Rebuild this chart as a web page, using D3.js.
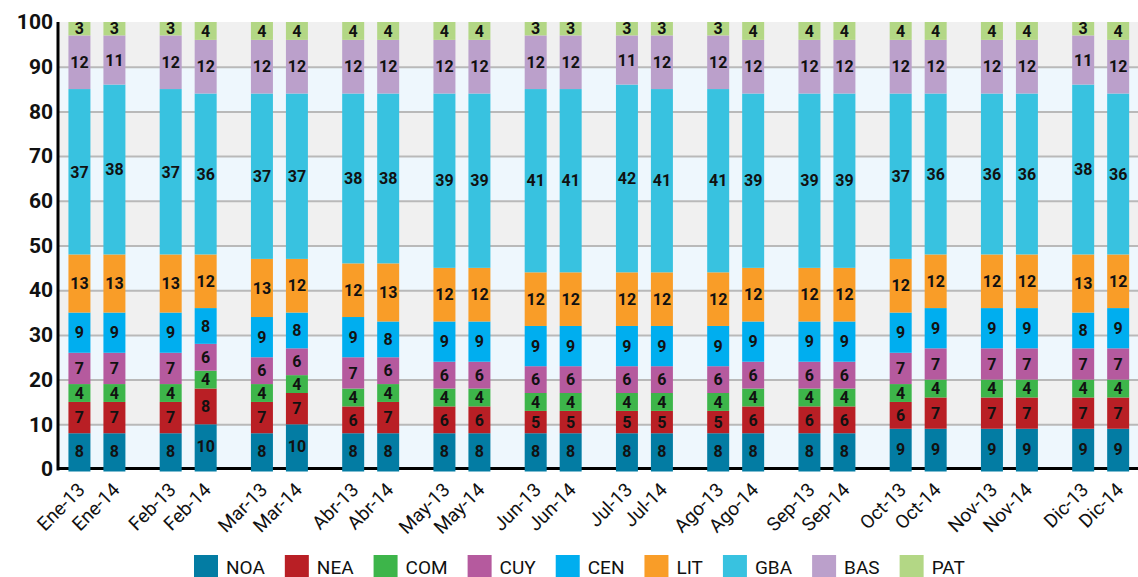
<!DOCTYPE html>
<html>
<head>
<meta charset="utf-8">
<script src="https://cdn.jsdelivr.net/npm/d3@7"></script>
<style>
  html, body { margin: 0; padding: 0; background: #fff; }
  svg { display: block; font-family: Roboto, "Noto Sans", sans-serif; }
</style>
</head>
<body>
<svg id="chart" width="1138" height="577"></svg>
<script>
// ---------------- DATA ----------------
const months = ["Ene","Feb","Mar","Abr","May","Jun","Jul","Ago","Sep","Oct","Nov","Dic"];
const years = ["13","14"];
const categories = [
  "Ene-13","Ene-14","Feb-13","Feb-14","Mar-13","Mar-14","Abr-13","Abr-14",
  "May-13","May-14","Jun-13","Jun-14","Jul-13","Jul-14","Ago-13","Ago-14",
  "Sep-13","Sep-14","Oct-13","Oct-14","Nov-13","Nov-14","Dic-13","Dic-14"
];
const seriesNames = ["NOA","NEA","COM","CUY","CEN","LIT","GBA","BAS","PAT"];
const NOA = [8,8, 8,10, 8,10, 8,8, 8,8, 8,8, 8,8, 8,8, 8,8, 9,9, 9,9, 9,9];
const NEA = [7,7, 7,8, 7,7, 6,7, 6,6, 5,5, 5,5, 5,6, 6,6, 6,7, 7,7, 7,7];
const COM = [4,4, 4,4, 4,4, 4,4, 4,4, 4,4, 4,4, 4,4, 4,4, 4,4, 4,4, 4,4];
const CUY = [7,7, 7,6, 6,6, 7,6, 6,6, 6,6, 6,6, 6,6, 6,6, 7,7, 7,7, 7,7];
const CEN = [9,9, 9,8, 9,8, 9,8, 9,9, 9,9, 9,9, 9,9, 9,9, 9,9, 9,9, 8,9];
const LIT = [13,13, 13,12, 13,12, 12,13, 12,12, 12,12, 12,12, 12,12, 12,12, 12,12, 12,12, 13,12];
const GBA = [37,38, 37,36, 37,37, 38,38, 39,39, 41,41, 42,41, 41,39, 39,39, 37,36, 36,36, 38,36];
const BAS = [12,11, 12,12, 12,12, 12,12, 12,12, 12,12, 11,12, 12,12, 12,12, 12,12, 12,12, 11,12];
const PAT = [3,3, 3,4, 4,4, 4,4, 4,4, 3,3, 3,3, 3,4, 4,4, 4,4, 4,4, 3,4];
const yTicks = [0,10,20,30,40,50,60,70,80,90,100];

// ---------------- STYLE ----------------
const colors = {
  NOA: "#037ca3", NEA: "#b91f25", COM: "#3db54a", CUY: "#b55a9e", CEN: "#00aeef",
  LIT: "#f99d28", GBA: "#38c2e0", BAS: "#bba0cb", PAT: "#b3d785"
};
const bandColors = ["#eef7fd", "#f0f0f0"];

// ---------------- BUILD TABLE ----------------
const seriesData = {NOA, NEA, COM, CUY, CEN, LIT, GBA, BAS, PAT};
const table = categories.map((c, i) => {
  const row = {cat: c, month: c.split("-")[0], year: c.split("-")[1]};
  seriesNames.forEach(s => row[s] = seriesData[s][i]);
  return row;
});

const W = 1138, H = 577;
const plot = {left: 58, right: 1138, top: 22, bottom: 469};
const svg = d3.select("#chart");

const y = d3.scaleLinear().domain([0, 100]).range([plot.bottom, plot.top]);

const xGroup = d3.scaleBand().domain(months).range([51.3, 1146.3]).paddingInner(0).paddingOuter(0);
const xInner = d3.scaleBand().domain(years).range([0, xGroup.bandwidth()])
  .paddingInner(13 / 35).paddingOuter(0.49);
const barX = d => xGroup(d.month) + xInner(d.year);
const xCenter = d3.scaleOrdinal().domain(categories)
  .range(table.map(d => barX(d) + xInner.bandwidth() / 2));

// Background bands
const bands = d3.range(0, 100, 10);
svg.append("g").selectAll("rect").data(bands).join("rect")
  .attr("x", plot.left).attr("width", plot.right - plot.left)
  .attr("y", d => y(d + 10)).attr("height", d => y(d) - y(d + 10))
  .attr("fill", d => bandColors[(d / 10) % 2]);

// Gridlines
svg.append("g")
  .attr("transform", `translate(${plot.left},0)`)
  .call(d3.axisLeft(y).tickValues(yTicks.slice(1, -1)).tickSize(-(plot.right - plot.left)).tickFormat(""))
  .call(g => g.select(".domain").remove())
  .call(g => g.selectAll("line").attr("stroke", "#b9b9b9").attr("stroke-width", 2));

// Axes lines
svg.append("line").attr("x1", plot.left).attr("x2", plot.left)
  .attr("y1", plot.top).attr("y2", plot.bottom + 1.5)
  .attr("stroke", "#000").attr("stroke-width", 3);
svg.append("line").attr("x1", plot.left).attr("x2", plot.right)
  .attr("y1", plot.bottom - 0.5).attr("y2", plot.bottom - 0.5)
  .attr("stroke", "#000").attr("stroke-width", 3);

// Stacked bars
const stack = d3.stack().keys(seriesNames);
const stacked = stack(table);

const layers = svg.append("g").selectAll("g").data(stacked).join("g")
  .attr("fill", d => colors[d.key]);
layers.selectAll("rect").data(d => d).join("rect")
  .attr("x", d => barX(d.data))
  .attr("width", xInner.bandwidth())
  .attr("y", d => y(d[1]))
  .attr("height", d => y(d[0]) - y(d[1]) + (d[0] === 0 ? 2.5 : 0));

// Value labels
const labels = svg.append("g").attr("font-weight", "bold").attr("font-size", 16)
  .attr("fill", "#111").attr("text-anchor", "middle");
stacked.forEach(layer => {
  labels.selectAll(null).data(layer).join("text")
    .attr("x", d => xCenter(d.data.cat))
    .attr("y", d => (y(d[0]) + y(d[1])) / 2)
    .attr("dy", "0.36em")
    .text(d => d.data[layer.key]);
});

// Y axis labels
svg.append("g")
  .attr("transform", `translate(${plot.left - 5},0)`)
  .call(d3.axisLeft(y).tickValues(yTicks).tickSize(0).tickPadding(0))
  .call(g => g.select(".domain").remove())
  .call(g => g.selectAll("text")
    .attr("font-family", "Roboto, sans-serif")
    .attr("font-size", 21).attr("font-weight", "bold").attr("fill", "#111"));

// X axis labels
svg.append("g")
  .attr("transform", `translate(0,${plot.bottom})`)
  .call(d3.axisBottom(xCenter).tickSize(0).tickPadding(0))
  .call(g => g.select(".domain").remove())
  .call(g => g.selectAll("text")
    .attr("font-family", "Roboto, sans-serif")
    .attr("font-size", 19).attr("fill", "#111")
    .attr("text-anchor", "end")
    .attr("y", 0).attr("dy", 0)
    .attr("transform", "translate(6,22) rotate(-45)"));

// Legend
const legend = svg.append("g").attr("transform", "translate(194,555)");
let lx = 0;
seriesNames.forEach(s => {
  const g = legend.append("g").attr("transform", `translate(${lx},0)`);
  g.append("rect").attr("width", 24).attr("height", 24).attr("fill", colors[s]);
  const t = g.append("text").attr("x", 32).attr("y", 18.5)
    .attr("font-size", 19).attr("fill", "#111").text(s);
  lx += 32 + t.node().getComputedTextLength() + 20;
});
</script>
</body>
</html>
